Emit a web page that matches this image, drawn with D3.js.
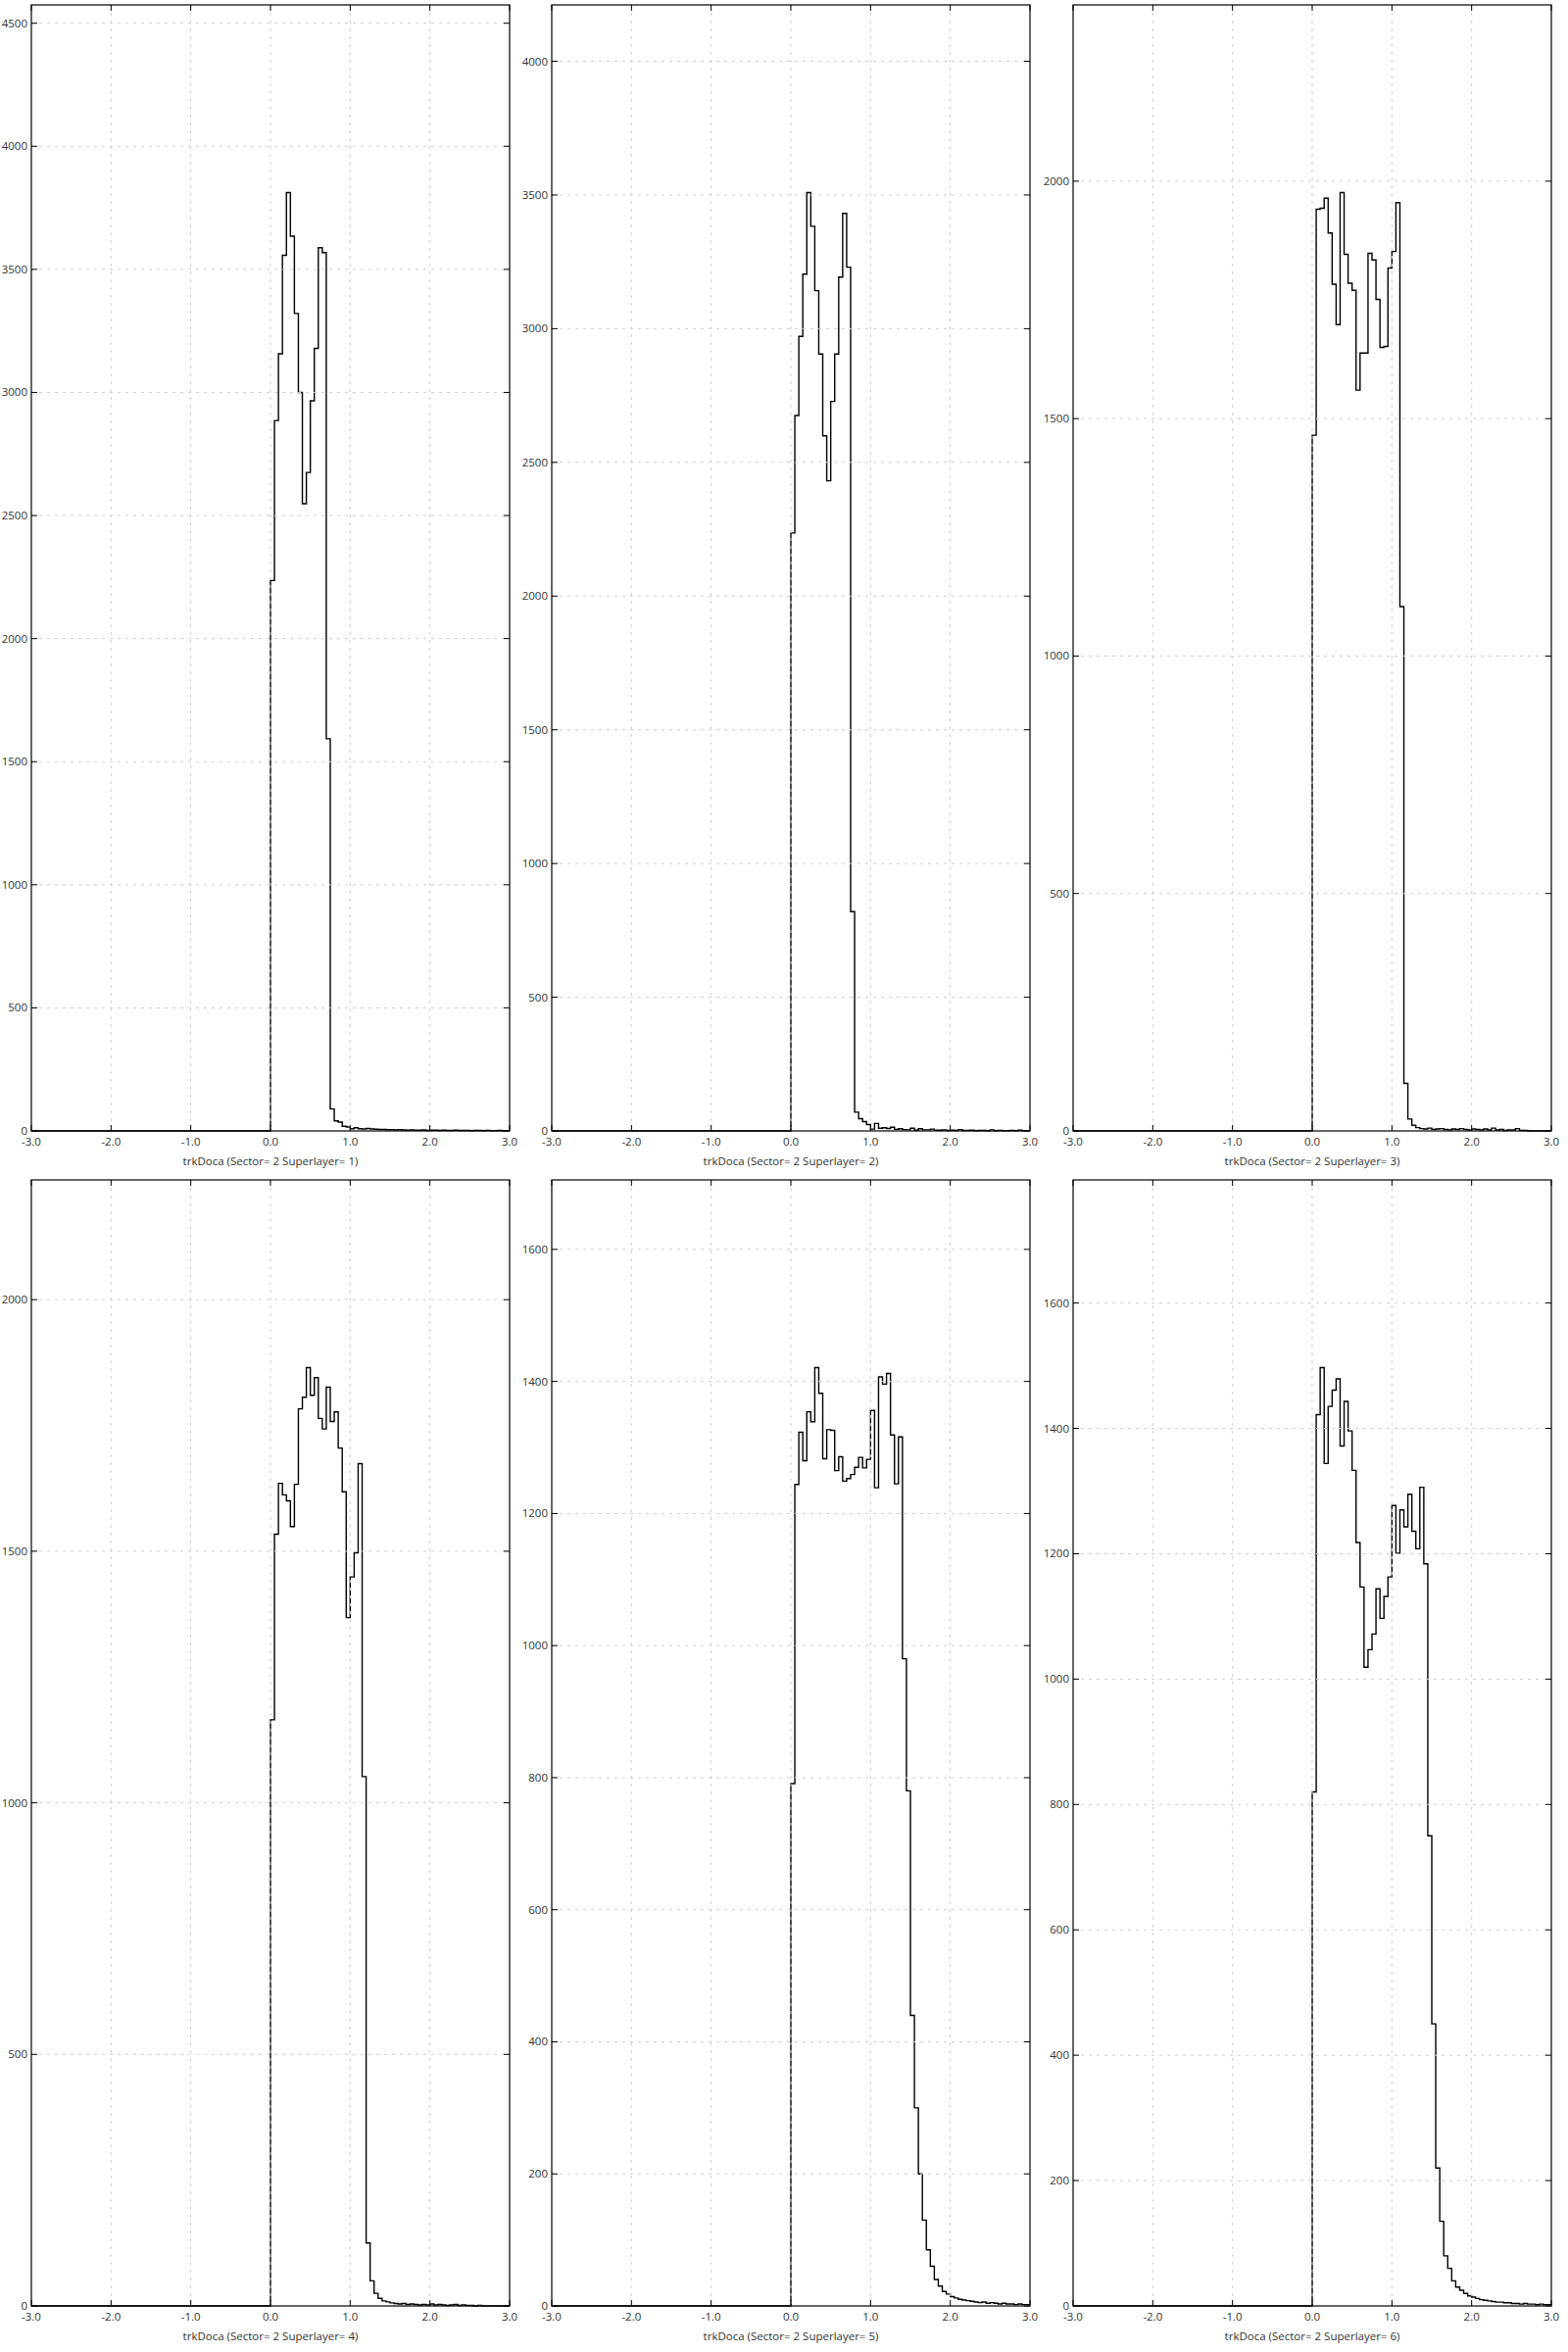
<!DOCTYPE html>
<html>
<head>
    <meta charset="utf-8">
    <title>trkDoca sector 2</title>
    <script src="https://d3js.org/d3.v7.min.js"></script>
    <style>
        body { margin: 0; background: #fff; }
        text { font-family: 'Open Sans', 'Noto Sans', sans-serif; font-size: 11.5px; fill: #333; }
        .grid { stroke: #cfcfcf; stroke-width: 1; stroke-dasharray: 3,5; }
        .frame { fill: none; stroke: #000; stroke-width: 1.2; }
        .tick { stroke: #000; stroke-width: 1; }
        .hist { fill: none; stroke: #000; stroke-width: 1.4; }
    </style>
</head>
<body>
    <svg id="canvas" width="1600" height="2400"></svg>

    <script>
        // histogram bins start at 0.0, width 0.05 (everything below 0 is empty)
        var binStart = 0.0;
        var binWidth = 0.05;

        var sl1Counts = [2236, 2886, 3157, 3557, 3812, 3635, 3321, 3000, 2548, 2675, 2966, 3179, 3588, 3568, 1593,
            89, 41, 36, 19, 16, 9, 13, 9, 8, 10, 8, 7, 6, 6, 5, 5, 4, 5, 4, 3, 4, 3, 3, 4, 2, 3, 3, 2, 3, 2,
            2, 3, 2, 2, 2, 1, 2, 2, 1, 2, 1, 1, 2, 1, 1];
        var sl2Counts = [2236, 2675, 2971, 3204, 3509, 3383, 3142, 2905, 2599, 2431, 2728, 2905, 3193, 3431, 3230, 820,
            70, 46, 35, 24, 7, 28, 10, 12, 9, 14, 6, 8, 5, 4, 10, 3, 8, 4, 4, 7, 3, 3, 4, 2, 3, 2, 5, 2,
            2, 3, 1, 2, 2, 1, 4, 1, 2, 1, 1, 2, 1, 3, 1, 1];
        var sl3Counts = [1465, 1941, 1943, 1964, 1891, 1783, 1698, 1976, 1846, 1785, 1770, 1560, 1638, 1638, 1848, 1834,
            1751, 1650, 1652, 1817, 1852, 1955, 1104, 100, 25, 12, 7, 5, 4, 6, 3, 4, 5, 3, 2, 4, 3, 5, 3, 2,
            4, 3, 2, 4, 2, 6, 2, 3, 1, 2, 2, 5, 1, 1, 0, 0, 0, 0, 0, 0];
        var sl4Counts = [1165, 1534, 1635, 1612, 1600, 1549, 1633, 1783, 1806, 1865, 1810, 1845, 1764, 1743, 1826, 1758,
            1777, 1705, 1618, 1368, 1449, 1497, 1674, 1052, 125, 50, 25, 15, 10, 8, 6, 5, 4, 5, 3, 4, 3, 2, 3, 2,
            4, 2, 3, 2, 1, 2, 3, 1, 2, 1, 1, 0, 1, 0, 0, 0, 0, 0, 0, 0];
        var sl5Counts = [791, 1244, 1323, 1280, 1354, 1339, 1421, 1382, 1283, 1327, 1326, 1265, 1286, 1249, 1253, 1259,
            1270, 1285, 1269, 1282, 1356, 1239, 1407, 1396, 1412, 1319, 1245, 1316, 980, 780, 440, 300, 200, 130, 85, 60,
            40, 30, 22, 18, 14, 12, 10, 9, 8, 7, 6, 5, 6, 4, 5, 4, 3, 4, 3, 3, 2, 3, 2, 2];
        var sl6Counts = [820, 1422, 1497, 1344, 1435, 1461, 1479, 1372, 1443, 1396, 1333, 1218, 1147, 1019, 1047, 1072,
            1144, 1097, 1132, 1163, 1277, 1201, 1270, 1243, 1295, 1236, 1208, 1306, 1184, 750, 450, 220, 135, 80, 60, 40,
            30, 25, 20, 16, 14, 12, 10, 9, 8, 7, 6, 6, 5, 5, 4, 4, 3, 4, 3, 3, 2, 3, 2, 2];

        var xTicks = [-3, -2, -1, 0, 1, 2, 3];
        var yTicks1 = [0, 500, 1000, 1500, 2000, 2500, 3000, 3500, 4000, 4500];
        var yTicks2 = [0, 500, 1000, 1500, 2000, 2500, 3000, 3500, 4000];
        var yTicks3 = [0, 500, 1000, 1500, 2000];
        var yTicks4 = [0, 500, 1000, 1500, 2000];
        var yTicks5 = [0, 200, 400, 600, 800, 1000, 1200, 1400, 1600];
        var yTicks6 = [0, 200, 400, 600, 800, 1000, 1200, 1400, 1600];

        var allCounts = [sl1Counts, sl2Counts, sl3Counts, sl4Counts, sl5Counts, sl6Counts];
        var allYTicks = [yTicks1, yTicks2, yTicks3, yTicks4, yTicks5, yTicks6];

        var colLeft = [32, 563, 1095];
        var rowTop = [5, 1204];
        var plotW = 488;
        var plotH = 1149;

        var svg = d3.select("#canvas");

        for (var i = 0; i < 6; i++)
        {
            drawPanel(i);
        }

        // plain hyphen for negatives, like "-3.0"
        function xFmt(d)
        {
            return d.toFixed(1);
        }

        function drawPanel(i)
        {
            var counts = allCounts[i];
            var yTicks = allYTicks[i];
            var left = colLeft[i % 3];
            var top = rowTop[Math.floor(i / 3)];

            var g = svg.append("g").attr("transform", "translate(" + left + "," + top + ")");

            var x = d3.scaleLinear().domain([-3, 3]).range([0, plotW]);
            var y = d3.scaleLinear().domain([0, d3.max(counts) * 1.2]).range([plotH, 0]);

            // step outline: empty from -3 up to the first bin, then each bin
            var pts = [[-3, 0]];
            counts.forEach(function(c, k)
            {
                pts.push([binStart + k * binWidth, c]);
            });
            pts.push([binStart + counts.length * binWidth, counts[counts.length - 1]]);

            var line = d3.line()
                .x(function(d) { return x(d[0]); })
                .y(function(d) { return y(d[1]); })
                .curve(d3.curveStepAfter);

            g.append("path").attr("class", "hist").attr("d", line(pts));

            // grid goes over the histogram (dashes show on the steps at 0.0 / 1.0)
            g.selectAll(".gx").data(xTicks.slice(1, -1)).enter().append("line")
                .attr("class", "grid")
                .attr("x1", function(d) { return x(d); })
                .attr("x2", function(d) { return x(d); })
                .attr("y1", 0).attr("y2", plotH);

            g.selectAll(".gy").data(yTicks.slice(1)).enter().append("line")
                .attr("class", "grid")
                .attr("x1", 0).attr("x2", plotW)
                .attr("y1", function(d) { return y(d); })
                .attr("y2", function(d) { return y(d); });

            g.append("rect").attr("class", "frame")
                .attr("x", 0).attr("y", 0).attr("width", plotW).attr("height", plotH);

            // inward ticks on all four sides
            xTicks.forEach(function(t)
            {
                g.append("line").attr("class", "tick")
                    .attr("x1", x(t)).attr("x2", x(t)).attr("y1", 0).attr("y2", 6);
                g.append("line").attr("class", "tick")
                    .attr("x1", x(t)).attr("x2", x(t)).attr("y1", plotH).attr("y2", plotH - 6);
            });
            yTicks.forEach(function(t)
            {
                g.append("line").attr("class", "tick")
                    .attr("x1", 0).attr("x2", 6).attr("y1", y(t)).attr("y2", y(t));
                g.append("line").attr("class", "tick")
                    .attr("x1", plotW).attr("x2", plotW - 6).attr("y1", y(t)).attr("y2", y(t));
            });

            g.selectAll(".xl").data(xTicks).enter().append("text")
                .attr("x", function(d) { return x(d); })
                .attr("y", plotH + 15)
                .attr("text-anchor", "middle")
                .text(xFmt);

            g.selectAll(".yl").data(yTicks).enter().append("text")
                .attr("x", -4)
                .attr("y", function(d) { return y(d); })
                .attr("dy", "0.35em")
                .attr("text-anchor", "end")
                .text(function(d) { return d; });

            g.append("text")
                .attr("x", plotW / 2)
                .attr("y", plotH + 35)
                .attr("text-anchor", "middle")
                .text("trkDoca (Sector= 2 Superlayer= " + (i + 1) + ")");
        }
    </script>
</body>
</html>
